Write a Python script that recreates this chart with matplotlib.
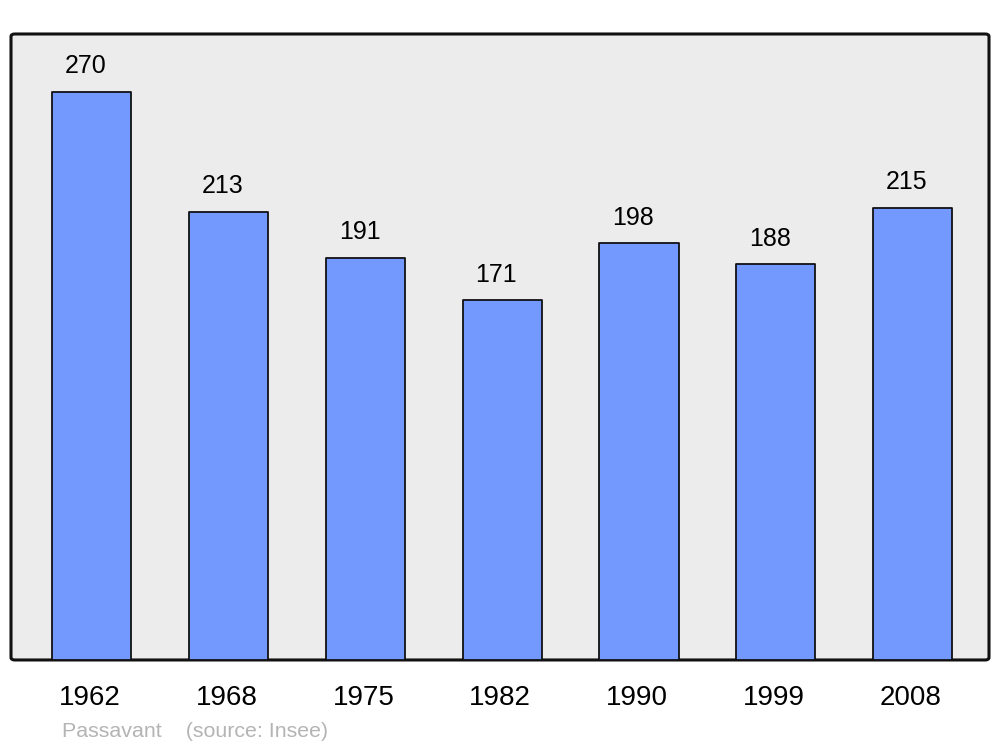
import matplotlib
matplotlib.use("Agg")
import matplotlib.pyplot as plt
from matplotlib.patches import FancyBboxPatch

years = ["1962", "1968", "1975", "1982", "1990", "1999", "2008"]
population = [270, 213, 191, 171, 198, 188, 215]

plt.rcParams['font.family'] = ['Liberation Sans', 'DejaVu Sans']

fig = plt.figure(figsize=(10, 7.47), dpi=100)
ax = fig.add_axes([0.011, 0.1165, 0.978, 0.838])
ax.set_facecolor('none')

frame = FancyBboxPatch((0, 0), 1, 1, boxstyle="round,pad=0,rounding_size=0.004",
                       transform=ax.transAxes, facecolor='#ececec', edgecolor='#111111',
                       linewidth=2.2, zorder=0, clip_on=False)
ax.add_patch(frame)

x = list(range(len(years)))
bars = ax.bar(x, population, width=0.578, color='#7399ff', edgecolor='#111111',
              linewidth=1.3, zorder=2, joinstyle='round')

for xi, v in zip(x, population):
    ax.annotate(str(v), (xi, v), xytext=(-4.3, 13.4), textcoords='offset points',
                ha='center', va='baseline', fontsize=18, color='black')

for xi, yl in zip(x, years):
    ax.annotate(yl, (xi, 0), xytext=(-1.5, -32.3), textcoords='offset points',
                ha='center', va='baseline', fontsize=20, color='black',
                annotation_clip=False)

ax.set_xlim(-0.592, 6.559)
ax.set_ylim(0, 297.5)
for s in ax.spines.values():
    s.set_visible(False)
ax.set_yticks([])
ax.set_xticks([])

fig.text(0.062, 1 - 737/747, "Passavant    (source: Insee)", fontsize=15.4,
         color='#b4b4b4', ha='left', va='baseline')

fig.savefig("out.png", dpi=100)
